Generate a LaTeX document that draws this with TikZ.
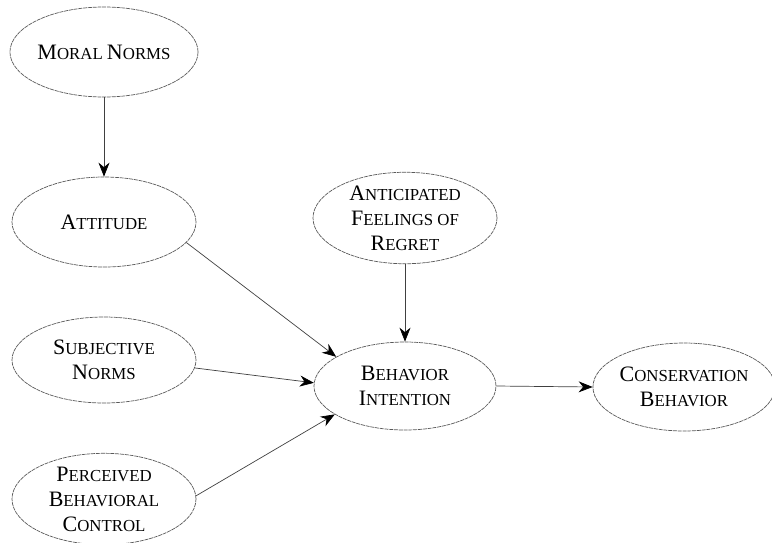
\documentclass[tikz,border=0pt]{standalone}
\usepackage{fontspec}
\setmainfont{Liberation Serif}
\usetikzlibrary{shapes.geometric,arrows.meta}
\newcommand{\SC}[2]{{\fontsize{22}{25}\selectfont #1}{\fontsize{16.8}{25}\selectfont #2}}
\begin{document}
\begin{tikzpicture}[x=1pt,y=-1pt,
  oval/.style={ellipse, draw=black!65, line width=0.7pt, dash pattern=on 4pt off 0.8pt,
    inner sep=0pt, align=center, text=black,
    font=\fontsize{16.8}{25}\selectfont},
  link/.style={draw=black!75, line width=0.7pt, -{Stealth[length=14pt,width=11pt,inset=4.5pt,black]}}]
\useasboundingbox (0,0) rectangle (772,542);
\node[oval, minimum width=184pt, minimum height=90pt] (mor) at (104,52) {\SC{M}{ORAL} \SC{N}{ORMS}};
\node[oval, minimum width=184pt, minimum height=90pt] (att) at (104,222) {\SC{A}{TTITUDE}};
\node[oval, minimum width=184pt, minimum height=86pt] (ant) at (405,218) {\SC{A}{NTICIPATED}\\\SC{F}{EELINGS OF}\\\SC{R}{EGRET}};
\node[oval, minimum width=184pt, minimum height=86pt] (sub) at (104,360) {\SC{S}{UBJECTIVE}\\\SC{N}{ORMS}};
\node[oval, minimum width=182pt, minimum height=88pt] (beh) at (405,386) {\SC{B}{EHAVIOR}\\\SC{I}{NTENTION}};
\node[oval, minimum width=172pt, minimum height=88pt] (con) at (684,387) {\SC{C}{ONSERVATION}\\\SC{B}{EHAVIOR}};
\node[oval, minimum width=184pt, minimum height=90pt] (per) at (104,499) {\SC{P}{ERCEIVED}\\\SC{B}{EHAVIORAL}\\\SC{C}{ONTROL}};
\draw[link] (mor.south) -- (att.north);
\draw[link] (att.-14) -- (beh.157);
\draw[link] (sub.-5) -- (beh.178);
\draw[link] (per.2) -- (beh.-158);
\draw[link] (ant.south) -- (beh.north);
\draw[link] (beh.east) -- (con.west);
\end{tikzpicture}
\end{document}
